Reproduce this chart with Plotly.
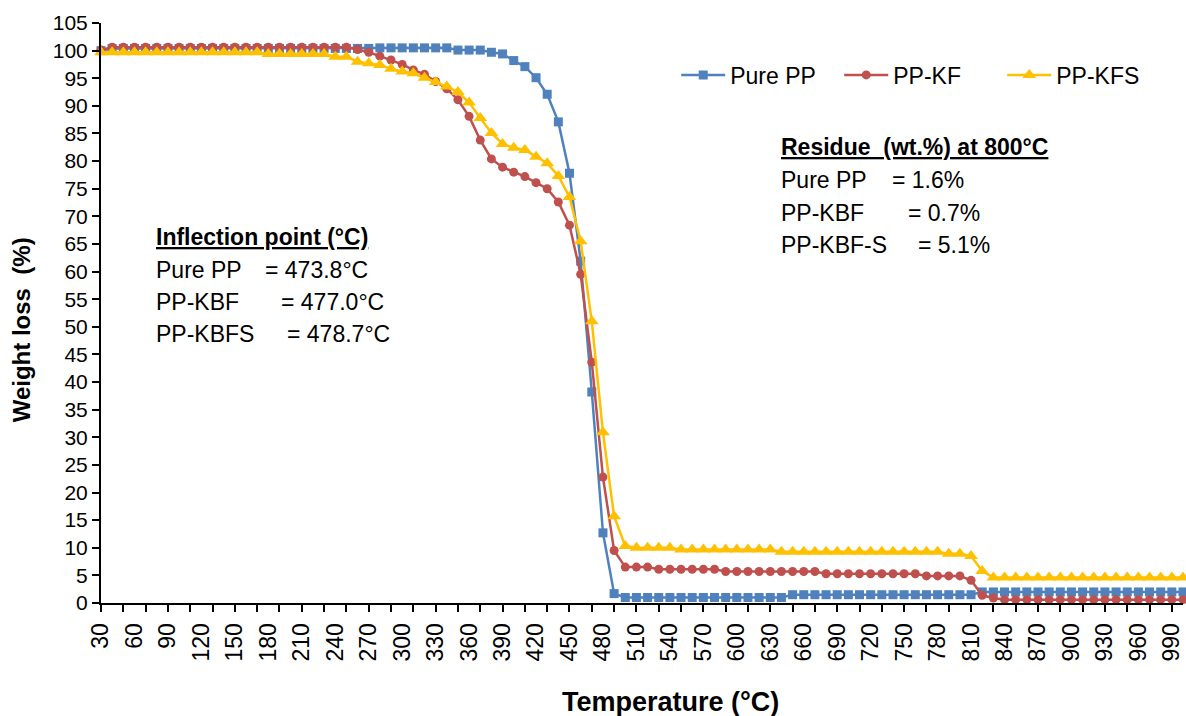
import plotly.graph_objects as go

# ---------------- data ----------------
temperature = list(range(30, 1001, 10))

pure_pp = ([100.0] + [100.4] * 24 + [100.5] * 7 + [100.1] * 3 +
           [99.7, 99.4, 98.2, 97.1, 95.1, 92.1, 87.1, 77.8, 61.9, 38.2, 12.7, 1.7] +
           [1.0] * 15 + [1.5] * 17 + [2.0] * 19)

pp_kf = ([100.1] + [100.6] * 22 +
         [100.2, 99.7, 99.0, 98.3, 97.5, 96.5, 95.7, 94.4, 93.1, 91.1, 88.1, 83.8,
          80.4, 78.9, 78.0, 77.2, 76.1, 75.0, 72.6, 68.4, 59.5, 43.6, 22.8, 9.5] +
         [6.5] * 3 + [6.1] * 6 + [5.7] * 9 + [5.3] * 9 + [4.9] * 4 +
         [4.1, 1.4, 0.9] + [0.6] * 17)

pp_kfs = ([99.7] * 15 + [99.4] * 6 +
          [98.9, 98.9, 98.0, 97.7, 97.4, 96.7, 96.2, 95.9, 95.1, 94.3, 93.5, 92.5, 90.6,
           87.8, 85.1, 83.1, 82.4, 82.0, 80.8, 79.6, 77.3, 73.5, 65.5, 51.0, 30.9, 15.7] +
          [10.3] + [10.0] * 4 + [9.7] * 9 + [9.3] * 15 + [8.9] * 2 +
          [8.5, 5.8] + [4.6] * 18)

series_names = ["Pure PP", "PP-KF", "PP-KFS"]
series_values = [pure_pp, pp_kf, pp_kfs]
series_colors = ["#4F81BD", "#C0504D", "#FFC000"]
series_symbols = ["square", "circle", "triangle-up"]
series_sizes = [9, 9, 12]

tick_positions = list(range(30, 1000, 20))
label_values = list(range(30, 991, 30))
label_text = [str(v) for v in label_values]

inflection_lines = [("Pure PP", "= 473.8°C"), ("PP-KBF", "= 477.0°C"), ("PP-KBFS", "= 478.7°C")]
residue_lines = [("Pure PP", "= 1.6%"), ("PP-KBF", "= 0.7%"), ("PP-KBF-S", "= 5.1%")]

# ---------------- layout geometry ----------------
W, H = 1186, 716
L, R, T, B = 100.5, 3, 23, 112.5
PW = W - L - R
PH = H - T - B
FONT = "Liberation Sans, Arial, sans-serif"


def px2x(px):
    return (px - L) / PW


def px2y(py):
    return (H - B - py) / PH


fig = go.Figure()
for name, vals, col, sym, sz in zip(series_names, series_values, series_colors,
                                    series_symbols, series_sizes):
    fig.add_trace(go.Scatter(
        x=temperature, y=vals, name=name, mode="lines+markers",
        line=dict(color=col, width=2.5),
        marker=dict(symbol=sym, size=sz, color=col),
        cliponaxis=False,
    ))

# invisible trace to carry the label axis
fig.add_trace(go.Scatter(x=[30, 1000], y=[0, 0], xaxis="x2", mode="markers",
                         marker=dict(opacity=0), showlegend=False, hoverinfo="skip"))

fig.update_layout(
    width=W, height=H,
    margin=dict(l=L, r=R, t=T, b=B, autoexpand=False),
    paper_bgcolor="white", plot_bgcolor="white",
    font=dict(family=FONT, color="black"),
    showlegend=True,
    legend=dict(orientation="h", x=px2x(676), y=px2y(75), xanchor="left", yanchor="middle",
                font=dict(size=23, family=FONT), bgcolor="rgba(0,0,0,0)",
                itemwidth=44, entrywidth=104, entrywidthmode="pixels", tracegroupgap=0),
    xaxis=dict(range=[30, 1000], tickmode="array", tickvals=tick_positions,
               showticklabels=False, ticks="outside", ticklen=7, tickwidth=1.5,
               tickcolor="black", showline=True, linecolor="black", linewidth=2,
               showgrid=False, zeroline=False),
    xaxis2=dict(range=[30, 1000], overlaying="x", anchor="y", side="bottom",
                tickmode="array", tickvals=label_values, ticktext=label_text,
                tickangle=-90, ticks="outside", ticklen=10, tickcolor="rgba(0,0,0,0)",
                tickfont=dict(size=23, family=FONT), showline=False,
                showgrid=False, zeroline=False),
    yaxis=dict(range=[0, 105], tickmode="linear", tick0=0, dtick=5,
               ticks="outside", ticklen=7, tickwidth=1.5, tickcolor="black",
               showline=True, linecolor="black", linewidth=2,
               tickfont=dict(size=21, family=FONT),
               showgrid=False, zeroline=False),
)

ann = []
# axis titles
ann.append(dict(text="<b>Temperature (°C)</b>", x=px2x(670), y=px2y(703), xref="paper", yref="paper",
                showarrow=False, xanchor="center", yanchor="middle", font=dict(size=27, family=FONT)))
ann.append(dict(text="<b>Weight loss  (%)</b>", x=px2x(21), y=px2y(330), xref="paper", yref="paper",
                showarrow=False, xanchor="center", yanchor="middle", textangle=-90,
                font=dict(size=24, family=FONT)))

# inflection box
ann.append(dict(text="<b><u>Inflection point (°C)</u></b>", x=px2x(154), y=px2y(237),
                xref="paper", yref="paper", showarrow=False, xanchor="left", yanchor="middle",
                font=dict(size=23, family=FONT)))
for (lab, val), py, vx in zip(inflection_lines, [270, 302, 334], [263, 279, 285]):
    ann.append(dict(text=lab, x=px2x(154), y=px2y(py), xref="paper", yref="paper", showarrow=False,
                    xanchor="left", yanchor="middle", font=dict(size=23, family=FONT)))
    ann.append(dict(text=val, x=px2x(vx), y=px2y(py), xref="paper", yref="paper", showarrow=False,
                    xanchor="left", yanchor="middle", font=dict(size=23, family=FONT)))

# residue box
ann.append(dict(text="<b><u>Residue  (wt.%) at 800°C</u></b>", x=px2x(779), y=px2y(147),
                xref="paper", yref="paper", showarrow=False, xanchor="left", yanchor="middle",
                font=dict(size=23, family=FONT)))
for (lab, val), py, vx in zip(residue_lines, [180, 213, 245], [890, 906, 916]):
    ann.append(dict(text=lab, x=px2x(779), y=px2y(py), xref="paper", yref="paper", showarrow=False,
                    xanchor="left", yanchor="middle", font=dict(size=23, family=FONT)))
    ann.append(dict(text=val, x=px2x(vx), y=px2y(py), xref="paper", yref="paper", showarrow=False,
                    xanchor="left", yanchor="middle", font=dict(size=23, family=FONT)))

fig.update_layout(annotations=ann)
fig.write_html("out.html", config={"displayModeBar": False},
               post_script="document.body.style.margin='0px';document.body.style.overflow='hidden';")
